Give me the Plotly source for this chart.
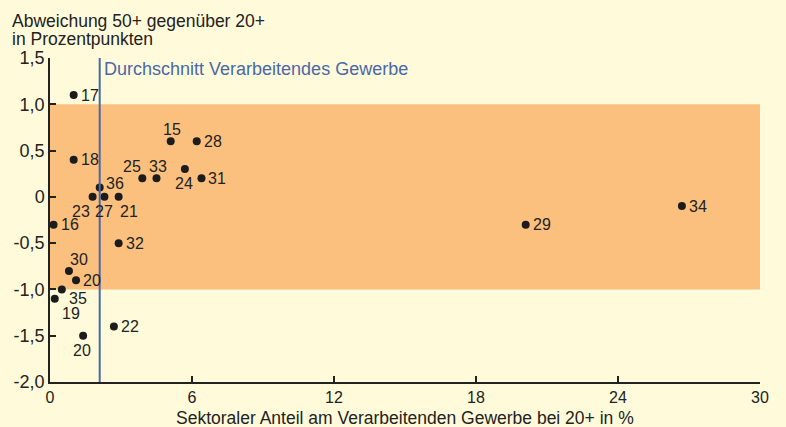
import plotly.graph_objects as go

# data
labels = ["17", "18", "15", "28", "25", "33", "24", "31", "36", "23", "27", "21",
          "16", "32", "30", "20", "35", "19", "22", "20", "29", "34"]
share = [1.0, 1.0, 5.1, 6.2, 3.9, 4.5, 5.7, 6.4, 2.1, 1.8, 2.3, 2.9,
         0.15, 2.9, 0.8, 1.1, 0.5, 0.2, 2.7, 1.4, 20.1, 26.7]
dev = [1.1, 0.4, 0.6, 0.6, 0.2, 0.2, 0.3, 0.2, 0.1, 0.0, 0.0, 0.0,
       -0.3, -0.5, -0.8, -0.9, -1.0, -1.1, -1.4, -1.5, -0.3, -0.1]
avg_share = 2.1
band = [-1.0, 1.0]
x_ticks = [0, 6, 12, 18, 24, 30]
y_ticks = [1.5, 1.0, 0.5, 0, -0.5, -1.0, -1.5, -2.0]
y_ticktext = ["1,5", "1,0", "0,5", "0", "-0,5", "-1,0", "-1,5", "-2,0"]

# label placement (anchor, x pixel shift, y pixel shift)
lab_pos = {
    0: ("left", 5, 0), 1: ("left", 5, 0), 2: ("center", 1, 12), 3: ("left", 5, 0),
    4: ("center", -10, 12), 5: ("center", 1, 12), 6: ("center", -1, -14), 7: ("left", 5, 0),
    8: ("left", 4, 4), 9: ("center", -12, -15), 10: ("center", 0, -15), 11: ("center", 10, -15),
    12: ("left", 5, 0), 13: ("left", 5, 0), 14: ("center", 10, 11), 15: ("left", 5, 0),
    16: ("center", 16, -9), 17: ("center", 16, -15), 18: ("left", 5, 0), 19: ("center", -1, -15),
    20: ("left", 5, 0), 21: ("left", 5, 0),
}

font_main = "Liberation Sans, Arial, sans-serif"
txt = "#222222"

fig = go.Figure()
fig.add_shape(type="rect", xref="x", yref="y", x0=x_ticks[0], x1=x_ticks[-1],
              y0=band[0], y1=band[1], fillcolor="#FCC07E", line_width=0, layer="below")
fig.add_shape(type="line", xref="x", yref="y", x0=avg_share, x1=avg_share,
              y0=y_ticks[-1], y1=y_ticks[0], line=dict(color="#4A67A8", width=2))
fig.add_trace(go.Scatter(x=share, y=dev, mode="markers",
                         marker=dict(color="#1C1C1C", size=8), cliponaxis=False,
                         hoverinfo="skip"))
for i, (xv, yv, t) in enumerate(zip(share, dev, labels)):
    anc, dx, dy = lab_pos[i]
    fig.add_annotation(x=xv, y=yv, text=t, showarrow=False, xanchor=anc, yanchor="middle",
                       xshift=dx, yshift=dy, font=dict(family=font_main, size=16, color=txt))
fig.add_annotation(x=avg_share, y=1.38, text="Durchschnitt Verarbeitendes Gewerbe",
                   showarrow=False, xanchor="left", yanchor="middle", xshift=2,
                   font=dict(family=font_main, size=18, color="#4A67A8"))
fig.add_annotation(xref="paper", yref="paper", x=-0.056, y=1.114, xanchor="left", yanchor="middle",
                   showarrow=False, text="Abweichung 50+ gegenüber 20+",
                   font=dict(family=font_main, size=17.5, color=txt))
fig.add_annotation(xref="paper", yref="paper", x=-0.056, y=1.059, xanchor="left", yanchor="middle",
                   showarrow=False, text="in Prozentpunkten",
                   font=dict(family=font_main, size=17.5, color=txt))
fig.add_annotation(xref="paper", yref="paper", x=0.5, y=-0.112, xanchor="center", yanchor="middle",
                   showarrow=False, text="Sektoraler Anteil am Verarbeitenden Gewerbe bei 20+ in %",
                   font=dict(family=font_main, size=17.5, color=txt))

fig.update_layout(
    width=786, height=427, margin=dict(l=50, r=26, t=58, b=45),
    paper_bgcolor="#FFFBDA", plot_bgcolor="#FFFBDA", showlegend=False,
    xaxis=dict(range=[0, 30], tickvals=x_ticks, ticks="inside", ticklen=6, tickcolor="#222",
               tickwidth=1.5, showline=True, linecolor="#222", linewidth=1.5, showgrid=False,
               zeroline=False, automargin=False,
               tickfont=dict(family=font_main, size=16, color=txt)),
    yaxis=dict(range=[-2, 1.5], tickvals=y_ticks, ticktext=y_ticktext, ticks="inside", ticklen=6,
               tickcolor="#222", tickwidth=1.5, showline=True, linecolor="#222", linewidth=1.5,
               showgrid=False, zeroline=False, automargin=False,
               tickfont=dict(family=font_main, size=18, color=txt)),
)
fig.write_html("out.html", config={"displayModeBar": False},
               post_script="document.body.style.margin='0';document.body.style.overflow='hidden';")
